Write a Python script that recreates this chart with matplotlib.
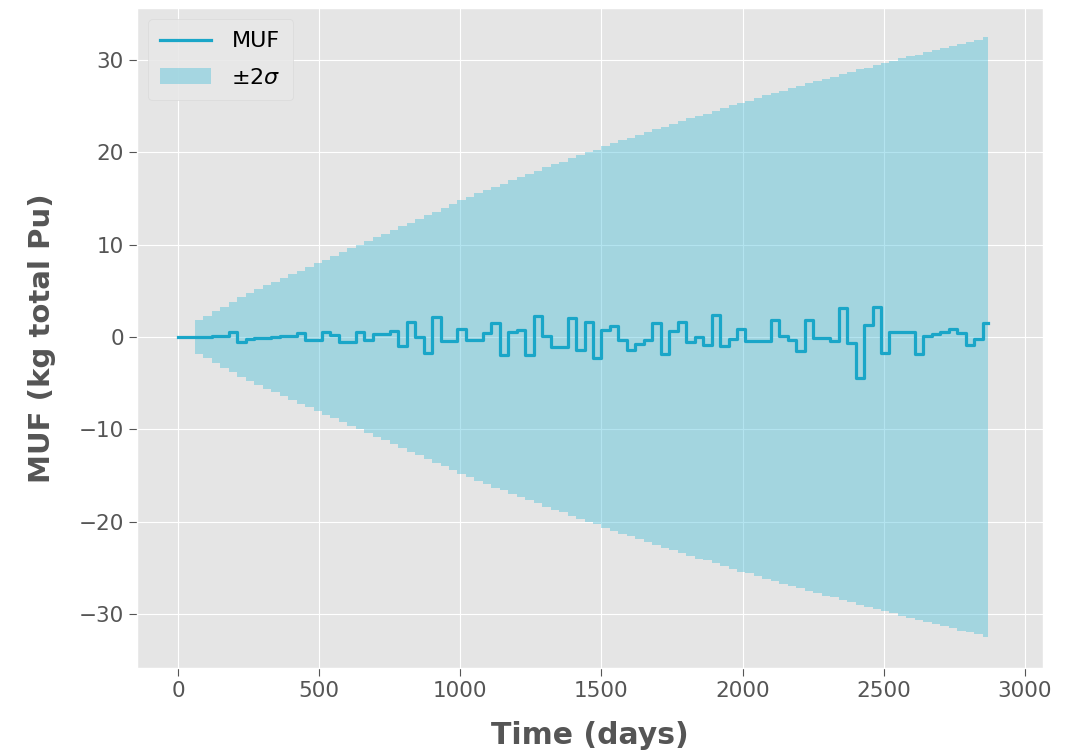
import numpy as np
import matplotlib
matplotlib.use("Agg")
import matplotlib.pyplot as plt

# balance periods (days) - one MUF value per 30 day period
period = 30
t_end = 2870

muf = [0.0, 0.0, 0.0, 0.05, 0.1, 0.1, 0.5, -0.5, -0.2, -0.1,
       -0.1, 0.0, 0.1, 0.1, 0.4, -0.3, -0.3, 0.5, 0.2, -0.5,
       -0.5, 0.6, -0.3, 0.3, 0.3, 0.7, -1.0, 1.6, 0.0, -1.7,
       2.2, -0.4, -0.4, 0.9, -0.3, -0.3, 0.4, 1.5, -1.9, 0.6,
       0.8, -1.9, 2.3, 0.1, -1.1, -1.1, 2.1, -1.4, 1.6, -2.3,
       0.8, 1.2, -0.3, -1.4, -0.8, -0.3, 1.5, -1.8, 0.7, 1.6,
       -0.5, 0.0, -0.9, 2.4, -1.0, -0.2, 0.9, -0.4, -0.4, -0.4,
       1.8, 0.1, -0.3, -1.5, 1.9, -0.1, -0.1, -0.4, 3.2, -0.6,
       -4.4, 1.3, 3.3, -1.7, 0.6, 0.6, 0.5, -1.8, 0.1, 0.3,
       0.5, 0.9, 0.4, -0.9, -0.2, 1.5]

# 2 sigma uncertainty, starts at the third period
two_sigma = [1.8, 2.3, 2.8, 3.3, 3.8, 4.3, 4.8, 5.2, 5.6, 6.0,
             6.4, 6.8, 7.2, 7.6, 8.0, 8.4, 8.8, 9.2, 9.6, 10.0,
             10.4, 10.8, 11.2, 11.6, 12.0, 12.4, 12.8, 13.2, 13.6, 14.0,
             14.4, 14.8, 15.2, 15.6, 15.9, 16.3, 16.6, 17.0, 17.3, 17.7,
             18.0, 18.4, 18.7, 19.0, 19.4, 19.7, 20.0, 20.3, 20.7, 21.0,
             21.3, 21.6, 21.9, 22.2, 22.5, 22.8, 23.1, 23.4, 23.7, 24.0,
             24.2, 24.5, 24.8, 25.1, 25.4, 25.6, 25.9, 26.2, 26.4, 26.7,
             27.0, 27.2, 27.5, 27.7, 28.0, 28.2, 28.5, 28.7, 29.0, 29.2,
             29.5, 29.7, 29.9, 30.2, 30.4, 30.6, 30.9, 31.1, 31.3, 31.5,
             31.8, 32.0, 32.2, 32.5]
sigma_start = 2

t = np.append(np.arange(len(muf)) * period, t_end)
muf_y = np.append(muf, muf[-1])
t_s = t[sigma_start:]
sig_y = np.append(two_sigma, two_sigma[-1])

plt.style.use("ggplot")
fig = plt.figure(figsize=(10.74, 7.51), dpi=100)
ax = fig.add_axes([0.1276, 0.1105, 0.8436, 0.8788])

line_col = "#1aa6c8"
ax.fill_between(t_s, -sig_y, sig_y, step="post", color="#42bdd8",
                alpha=0.4, linewidth=0, label=r"$\pm2\sigma$")
ax.step(t, muf_y, where="post", color=line_col, linewidth=2.3, label="MUF")

ax.set_xlim(-145, 3064)
ax.set_ylim(-35.85, 35.65)
ax.set_xticks([0, 500, 1000, 1500, 2000, 2500, 3000])
ax.set_yticks([-30, -20, -10, 0, 10, 20, 30])
ax.tick_params(labelsize=15.5, colors="#555555", length=6)
ax.set_xlabel("Time (days)", fontsize=21.5, fontweight="bold",
              color="#555555", labelpad=14)
ax.set_ylabel("MUF (kg total Pu)", fontsize=21, fontweight="bold",
              color="#555555", labelpad=16)

h, l = ax.get_legend_handles_labels()
leg = ax.legend(h[::-1], l[::-1], loc="upper left", fontsize=16,
                facecolor="#e8e8e8", edgecolor="#d8d8d8", framealpha=0.9,
                labelspacing=0.75, handlelength=2.3, handletextpad=0.9,
                borderpad=0.55)

fig.savefig("out.png", dpi=100)
